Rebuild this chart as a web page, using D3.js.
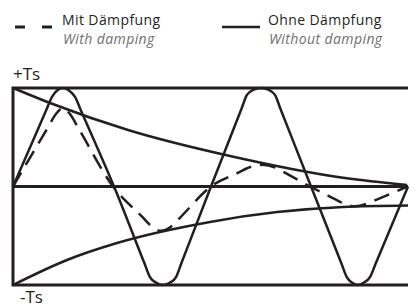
<!DOCTYPE html>
<html>
<head>
<meta charset="utf-8">
<script src="https://cdn.jsdelivr.net/npm/d3@7"></script>
<style>
  body { margin: 0; background: #fff; }
  text { font-family: "Open Sans", sans-serif; }
</style>
</head>
<body>
<div class="chart"></div>
<script>
//! CONSTS
const WIDTH = 419;
const HEIGHT = 307;
const INK = '#231f20';

//! DATA (time 0..400, value -1..+1 = -Ts..+Ts)
const undampedT = [0, 33.6, 39.5, 44.6, 50.6, 56.7, 62.8, 68.7, 102.3,
  133.2, 138.7, 144.8, 151.9, 159, 165.1, 170.4, 200.5,
  231.4, 236.9, 243, 251.1, 259.2, 265.3, 270.8, 301.8,
  332.6, 338, 343.2, 349.3, 355.4, 361.5, 367.3, 400];
const undampedV = [0, .774, .91, .975, 1, .975, .91, .774, 0,
  -.782, -.92, -.975, -1, -.975, -.92, -.782, 0,
  .79, .93, .98, 1, .98, .93, .79, 0,
  -.782, -.92, -.975, -1, -.975, -.92, -.782, 0];

const dampedT = [0, 34.8, 43.5, 50.6, 57.7, 66.4, 101.3, 131.2, 138.7, 149.8, 160.9, 168.8, 200.5,
  228.8, 235.9, 252.1, 268.3, 274.8, 300.8, 327.5, 334.2, 346.4, 359.6, 367.7, 400];
const dampedV = [0, .589, .736, .797, .736, .589, 0, -.312, -.39, -.45, -.40, -.32, 0,
  .144, .18, .22, .18, .144, 0, -.136, -.17, -.20, -.17, -.136, 0];

const upperT = [0, 37.5, 116.5, 219.8, 336.2, 399];
const upperV = [1, .848, .574, .31, .086, .015];

const lowerT = [0, 54.7, 105.3, 199.5, 267.4, 334.2, 400];
const lowerV = [-1, -.746, -.574, -.36, -.26, -.208, -.193];

const levels = [1, 0, -1];
const levelLabels = ['+Ts', '-Ts'];
const legendDe = ['Mit Dämpfung', 'Ohne Dämpfung'];
const legendEn = ['With damping', 'Without damping'];

//! SVG
const svg = d3.select('.chart')
  .append('svg')
  .attr('width', WIDTH)
  .attr('height', HEIGHT);

const x = d3.scaleLinear().domain([0, 400]).range([13, 408]);
const y = d3.scaleLinear().domain([-1, 1]).range([285, 88]);

const zip = (ts, vs) => ts.map((t, i) => [t, vs[i]]);

const line = d3.line()
  .x(d => x(d[0]))
  .y(d => y(d[1]))
  .curve(d3.curveMonotoneX);

// frame
svg.append('path')
  .attr('d', `M${x(400)},${y(levels[0])}H${x(0)}V${y(levels[2])}H${x(400)}`)
  .attr('fill', 'none')
  .attr('stroke', INK)
  .attr('stroke-width', 3);

svg.append('line')
  .attr('x1', x(0)).attr('x2', x(400))
  .attr('y1', y(levels[1])).attr('y2', y(levels[1]))
  .attr('stroke', INK)
  .attr('stroke-width', 3);

// envelopes
[zip(upperT, upperV), zip(lowerT, lowerV)].forEach(d => {
  svg.append('path')
    .datum(d)
    .attr('d', line)
    .attr('fill', 'none')
    .attr('stroke', INK)
    .attr('stroke-width', 2.5);
});

// undamped
svg.append('path')
  .datum(zip(undampedT, undampedV))
  .attr('d', line)
  .attr('fill', 'none')
  .attr('stroke', INK)
  .attr('stroke-width', 2.5);

// damped
svg.append('path')
  .datum(zip(dampedT, dampedV))
  .attr('d', line)
  .attr('fill', 'none')
  .attr('stroke', INK)
  .attr('stroke-width', 2.5)
  .attr('stroke-dasharray', '16,9');

// +Ts / -Ts
svg.append('text')
  .attr('x', 13).attr('y', y(1) - 8)
  .attr('font-size', 17).attr('fill', INK)
  .text(levelLabels[0]);
svg.append('text')
  .attr('x', 20).attr('y', y(-1) + 18)
  .attr('font-size', 17).attr('fill', INK)
  .text(levelLabels[1]);

// legend
const legend = svg.append('g');
legend.append('line')
  .attr('x1', 15).attr('x2', 53).attr('y1', 27).attr('y2', 27)
  .attr('stroke', INK).attr('stroke-width', 3)
  .attr('stroke-dasharray', '10,17');
legend.append('line')
  .attr('x1', 222).attr('x2', 260).attr('y1', 27).attr('y2', 27)
  .attr('stroke', INK).attr('stroke-width', 2.5);

[62, 268].forEach((lx, i) => {
  legend.append('text')
    .attr('x', lx).attr('y', 25)
    .attr('font-size', 14).attr('letter-spacing', 0.4).attr('fill', INK)
    .text(legendDe[i]);
  legend.append('text')
    .attr('x', lx + 1).attr('y', 44)
    .attr('font-size', 14).attr('letter-spacing', 0.4)
    .attr('font-style', 'italic').attr('fill', '#707070')
    .text(legendEn[i]);
});
</script>
</body>
</html>
